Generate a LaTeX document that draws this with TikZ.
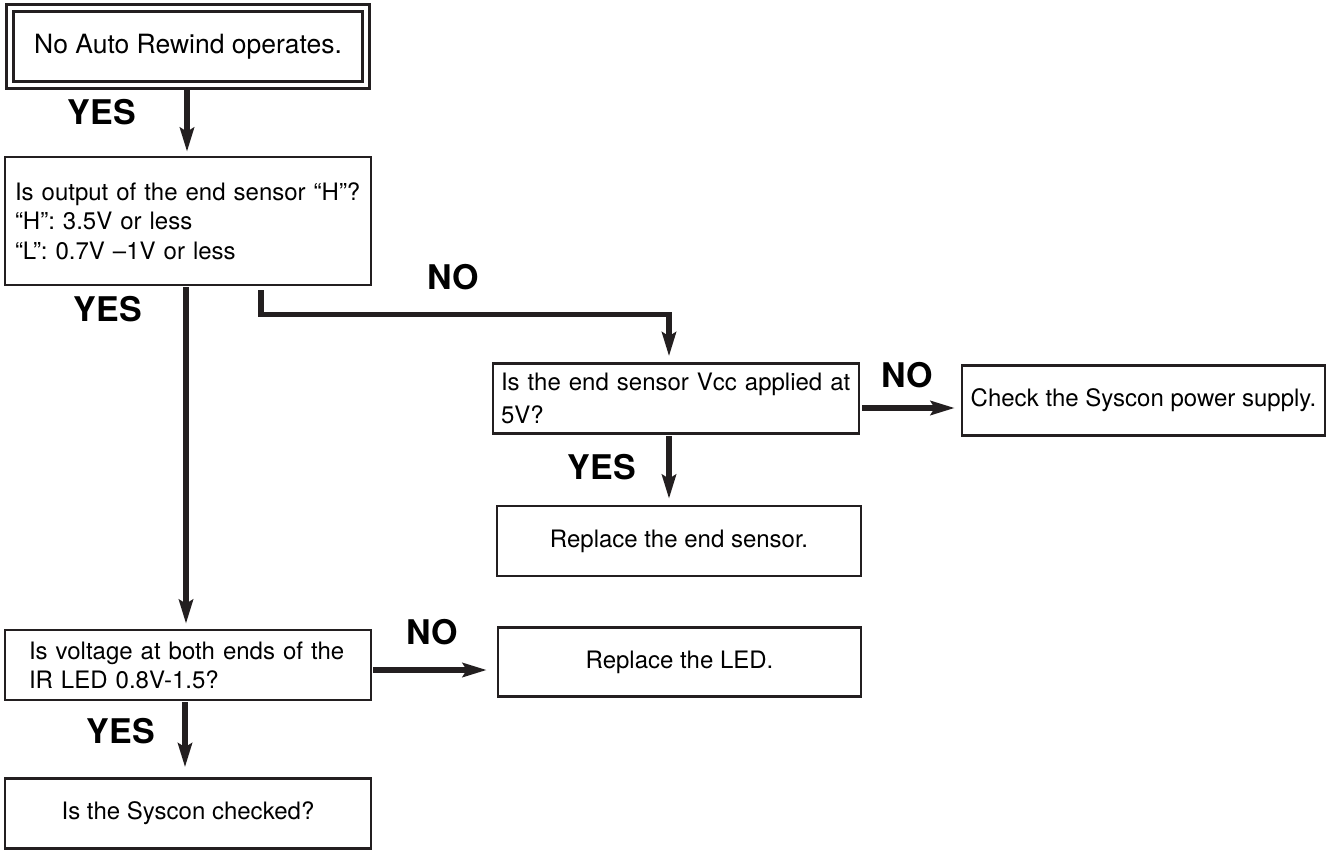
\documentclass[tikz,border=0pt]{standalone}
\usepackage{fontspec}
\setmainfont{TeX Gyre Heros}
\usetikzlibrary{arrows.meta}
\definecolor{ink}{RGB}{35,31,32}
\begin{document}
\begin{tikzpicture}[x=1pt,y=-1pt,
  every node/.style={text=black},
  boxtext/.style={font=\fontsize{24}{29}\selectfont},
  flowbox/.style={draw=ink, line width=2.5pt, rectangle, inner sep=0pt, boxtext},
  leftbox/.style={flowbox, align=left},
  centerbox/.style={flowbox, align=center},
  answer/.style={font=\fontsize{34}{34}\bfseries\selectfont, inner sep=0pt},
  arr/.style={draw=ink, line width=5.5pt, -{Stealth[length=24pt,width=14pt,inset=4pt]}}
]
\useasboundingbox (0,0) rectangle (1327,850);

% nodes
\node[centerbox, double=white, draw=ink, line width=3.2pt, double distance=3.6pt,
      minimum width=356pt, minimum height=77pt, font=\fontsize{26.5}{30}\selectfont]
      (b1) at (188,46.5) {No Auto Rewind operates.};
\node[leftbox, minimum height=128pt, text width=346pt, inner xsep=10pt, font=\fontsize{24}{29.5}\selectfont]
      (b2) at (188,221) {\mbox{Is output of the end sensor “H”?}\\“H”: 3.5V or less\\“L”: 0.7V –1V or less};
\node[leftbox, minimum height=70pt, text width=350pt, inner xsep=8pt,
      font=\fontsize{24}{33}\selectfont]
      (b4) at (676,398.5) {\mbox{Is the end sensor Vcc applied at}\\5V?};
\node[centerbox, minimum width=363pt, minimum height=70pt]
      (b5) at (1143.5,400.5) {Check the Syscon power supply.};
\node[centerbox, minimum width=364pt, minimum height=70pt]
      (b6) at (679,541) {Replace the end sensor.};
\node[leftbox, minimum height=70pt, text width=318pt, inner xsep=24pt]
      (b3) at (188,665) {Is voltage at both ends of the\\IR LED 0.8V-1.5?};
\node[centerbox, minimum width=363pt, minimum height=69pt]
      (b7) at (679.5,662) {Replace the LED.};
\node[centerbox, minimum width=366pt, minimum height=70pt]
      (b8) at (188,813.5) {Is the Syscon checked?};

% labels
\node[answer] (y1) at (102,112) {YES};
\node[answer] (y2) at (108,309) {YES};
\node[answer] (n1) at (453,277) {NO};
\node[answer] (n2) at (907,375) {NO};
\node[answer] (y3) at (602,467) {YES};
\node[answer] (n3) at (432,632) {NO};
\node[answer] (y4) at (121,731) {YES};

% connectors
\draw[arr, shorten <=2pt, shorten >=4pt] ([xshift=-1pt]b1.south) -- ([xshift=-1pt]b1.south |- b2.north);
\draw[arr, shorten <=1pt, shorten >=5pt] ([xshift=-2pt]b2.south) -- ([xshift=-2pt]b2.south |- b3.north);
\coordinate (nostart) at ([xshift=73pt,yshift=-4pt]b2.south);
\coordinate (noend) at ([xshift=-7pt]b4.north);
\draw[arr, shorten >=6pt] (nostart) -- ++(0,24) -| (noend);
\draw[arr, shorten <=2pt, shorten >=6pt] ([yshift=-9.5pt]b4.east) -- ([yshift=-9.5pt]b4.east -| b5.west);
\draw[arr, shorten <=1pt, shorten >=6pt] ([xshift=-7pt]b4.south) -- ([xshift=-7pt]b4.south |- b6.north);
\draw[arr, shorten <=1pt, shorten >=10pt] ([yshift=-5pt]b3.east) -- ([yshift=-5pt]b3.east -| b7.west);
\draw[arr, shorten <=1pt, shorten >=10pt] ([xshift=-3pt]b3.south) -- ([xshift=-3pt]b3.south |- b8.north);
\end{tikzpicture}
\end{document}
